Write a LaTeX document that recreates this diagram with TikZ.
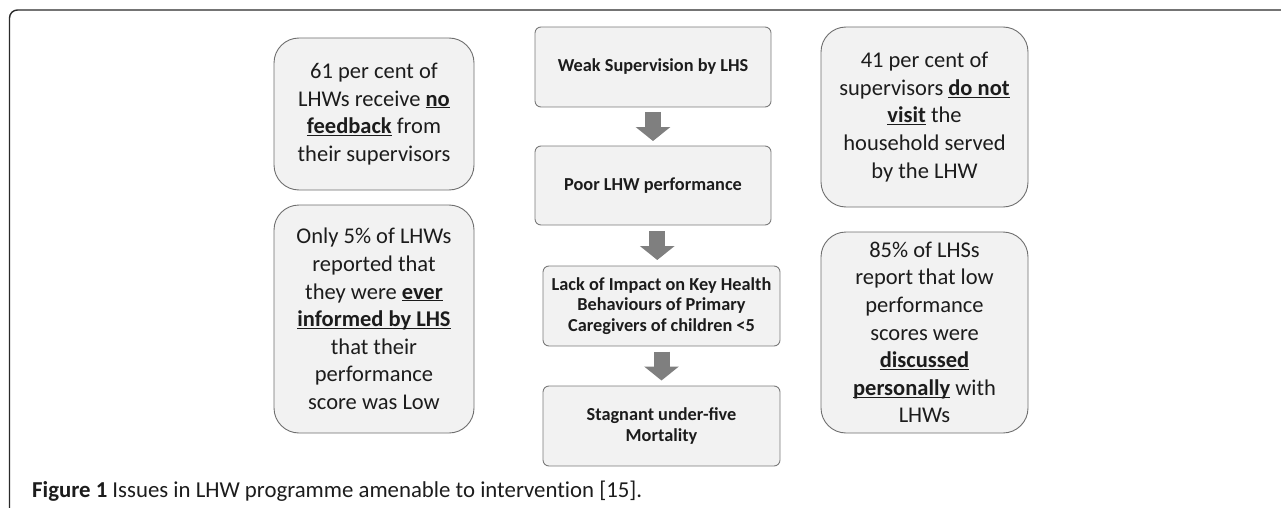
\documentclass[tikz,border=0pt]{standalone}
\usepackage{fontspec}
\usetikzlibrary{arrows.meta,calc}
\newfontfamily\carlito{Carlito}
\newfontfamily\capfam{Carlito}[Ligatures=NoCommon]
\newcommand\sidefont{\carlito\fontsize{22.5}{27.6}\selectfont}
\newcommand\stepfont{\carlito\bfseries\fontsize{18.3}{20.5}\selectfont}
\newcommand\captext{\textbf{Figure 1} Issues in LHW programme amenable to intervention [15].}
\newcommand\ulb[1]{\underline{\smash{\textbf{#1}}}}
\newlength\capw
\AtBeginDocument{%
  \settowidth\capw{\capfam\fontsize{10}{12}\selectfont\captext}%
  \pgfmathsetmacro\capsz{6100/\capw}%
  \xdef\capsz{\capsz}}
\definecolor{boxfill}{HTML}{F2F2F2}
\definecolor{boxline}{HTML}{6E6E6E}
\definecolor{stepline}{HTML}{7A7A7A}
\definecolor{arrowgray}{HTML}{7F7F7F}
\definecolor{txt}{HTML}{1C1C1C}
\definecolor{framec}{HTML}{2A2A2A}
\begin{document}
\begin{tikzpicture}[x=1pt,y=-1pt,
  sidebox/.style={draw=boxline, fill=boxfill, rounded corners=25pt, line width=0.9pt,
    align=center, inner sep=0pt, font=\sidefont, text=txt},
  stepbox/.style={draw=stepline, fill=boxfill, rounded corners=6pt, line width=0.9pt,
    align=center, inner sep=0pt, font=\stepfont, text=txt},
  blockarrow/.style={draw=arrowgray, line width=16pt, -{Triangle[width=34pt,length=14pt]}},
  framepath/.style={draw=framec, line width=1.4pt, rounded corners=8pt}]
\useasboundingbox (0,0) rectangle (1281,508);
\draw[framepath] (9.5,520) -- (9.5,10) -- (1300,10);
% left column
\node[sidebox, minimum width=200pt, minimum height=152pt] (l1) at (374,114)
  {61 per cent of\\LHWs receive \ulb{no}\\\ulb{feedback} from\\their supervisors};
\node[sidebox, minimum width=200pt, minimum height=228pt] (l2) at (374,319)
  {Only 5\% of LHWs\\reported that\\they were \ulb{ever}\\\ulb{informed by LHS}\\that their\\performance\\score was Low};
% right column
\node[sidebox, minimum width=207pt, minimum height=180pt] (r1) at (924.5,117)
  {41 per cent of\\supervisors \ulb{do not}\\\ulb{visit} the\\household served\\by the LHW};
\node[sidebox, minimum width=207pt, minimum height=201pt] (r2) at (924.5,332.5)
  {85\% of LHSs\\report that low\\performance\\scores were\\\ulb{discussed}\\\ulb{personally} with\\LHWs};
% centre column
\node[stepbox, minimum width=236pt, minimum height=80pt] (c1) at (653,67)
  {Weak Supervision by LHS};
\node[stepbox, minimum width=236pt, minimum height=79pt] (c2) at (653,185.5)
  {Poor LHW performance};
\node[stepbox, minimum width=237pt, minimum height=80pt] (c3) at (661.5,306)
  {Lack of Impact on Key Health\\Behaviours of Primary\\Caregivers of children <5};
\node[stepbox, minimum width=237pt, minimum height=80pt] (c4) at (661.5,426)
  {Stagnant under-five\\Mortality};
% block arrows
\coordinate (m1) at ($(c1.south)!0.5!(c2.north)$);
\coordinate (m2) at ($(c2.south)!0.5!(c3.north)$);
\coordinate (m3) at ($(c3.south)!0.5!(c4.north)$);
\foreach \m in {m1,m2,m3}
  \draw[blockarrow] ([yshift=14.5pt]\m) -- ([yshift=-14.5pt]\m);
% caption
\node[anchor=base west, inner sep=0pt, text=txt,
  font={\capfam\fontsize{\capsz}{\capsz}\selectfont}] (cap) at (32,497) {\captext};
\end{tikzpicture}
\end{document}
